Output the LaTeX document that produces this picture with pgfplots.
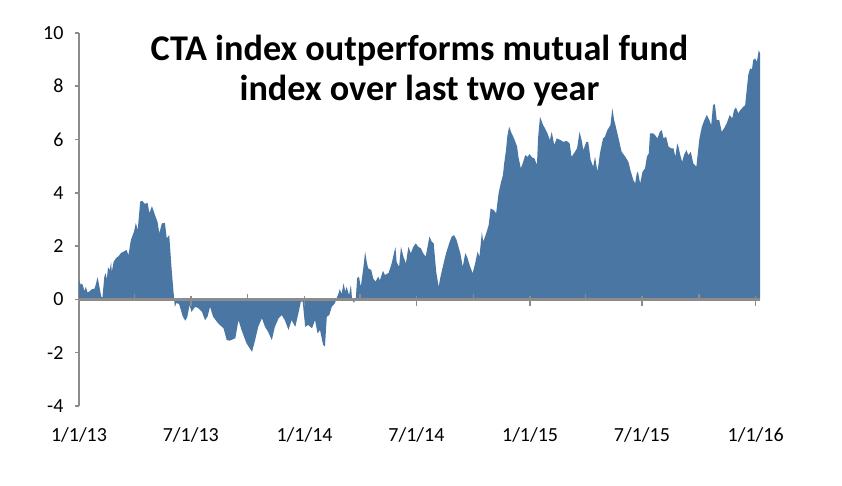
\documentclass[border=0pt]{standalone}
\usepackage{pgfplots}
\pgfplotsset{compat=1.18}
\usepackage{fontspec}
\setmainfont{Carlito}
\definecolor{cblue}{RGB}{74,118,164}
\definecolor{axgray}{RGB}{140,140,140}
\begin{document}
\begin{tikzpicture}
\begin{axis}[
  at={(0pt,0pt)}, anchor=south west,
  scale only axis, width=681pt, height=373pt,
  xmin=0, xmax=1102, ymin=-4, ymax=10,
  axis y line*=left, axis x line*=bottom,
  x axis line style={draw=none},
  y axis line style={draw=axgray, line width=1.5pt},
  ytick={-4,-2,0,2,4,6,8,10},
  yticklabels={-4,-2,0,2,4,6,8,10},
  xtick={0,181,365,546,730,911,1095},
  xticklabels={1/1/13,7/1/13,1/1/14,7/1/14,1/1/15,7/1/15,1/1/16},
  tick align=outside,
  major y tick style={draw=axgray, line width=1.5pt},
  major tick length=4pt,
  major x tick style={draw=none},
  ticklabel style={font=\fontsize{20}{22}\selectfont, text=black},
  yticklabel style={xshift=-8pt},
  xticklabel style={yshift=-14pt},
  clip=false,
]
\addplot[fill=cblue, draw=none] table[row sep=\\] {
x y\\
0 0.72\\ 3 0.54\\ 5 0.60\\ 9 0.31\\ 11 0.47\\ 14 0.25\\ 18 0.32\\ 21 0.38\\ 25 0.40\\ 27 0.54\\
30 0.83\\ 32 0.60\\ 36 0.10\\ 38 0.08\\ 41 0.85\\ 43 0.98\\ 45 0.75\\ 47 1.20\\ 50 1.10\\ 52 1.41\\
53 1.02\\ 56 1.41\\ 60 1.55\\ 64 1.62\\ 68 1.74\\ 72 1.79\\ 77 1.85\\ 80 1.66\\ 84 2.23\\ 89 2.54\\
92 2.87\\ 95 2.60\\ 99 3.66\\ 102 3.70\\ 107 3.58\\ 111 3.62\\ 114 3.23\\ 118 3.50\\ 123 3.16\\ 127 2.91\\
130 2.48\\ 134 2.85\\ 139 2.87\\ 142 2.29\\ 146 2.41\\ 150 1.10\\ 152 0.54\\ 154 0.00\\ 155 -0.28\\ 158 -0.13\\
162 -0.18\\ 168 -0.65\\ 172 -0.80\\ 175 -0.68\\ 179 -0.21\\ 182 -0.47\\ 188 -0.28\\ 193 -0.33\\ 199 -0.47\\ 204 -0.78\\
208 -0.65\\ 212 -0.28\\ 217 -0.65\\ 225 -0.90\\ 234 -1.09\\ 239 -1.53\\ 244 -1.55\\ 253 -1.46\\ 258 -0.78\\ 263 -1.15\\
271 -1.65\\ 280 -1.97\\ 285 -1.53\\ 290 -1.03\\ 296 -0.71\\ 301 -1.03\\ 306 -1.22\\ 312 -1.53\\ 317 -1.03\\ 323 -0.71\\
328 -0.59\\ 333 -0.78\\ 339 -1.15\\ 344 -0.78\\ 350 -1.03\\ 355 -0.53\\ 359 -0.09\\ 362 -0.09\\ 366 -1.03\\ 371 -0.96\\
377 -1.09\\ 382 -0.78\\ 386 -1.28\\ 390 -1.15\\ 395 -1.71\\ 398 -1.77\\ 401 -0.65\\ 405 -0.59\\ 409 -0.28\\ 414 -0.15\\
420 0.23\\ 422 0.38\\ 425 0.20\\ 428 0.60\\ 431 0.29\\ 433 0.47\\ 437 0.16\\ 440 0.54\\ 442 -0.03\\ 445 -0.13\\
448 0.04\\ 450 0.79\\ 453 0.85\\ 456 0.47\\ 460 1.16\\ 463 1.79\\ 466 1.35\\ 468 1.16\\ 473 1.10\\ 476 0.79\\
480 0.66\\ 484 0.85\\ 487 0.72\\ 492 1.07\\ 495 0.91\\ 501 0.99\\ 506 1.35\\ 512 1.97\\ 514 1.40\\ 518 1.22\\
521 1.97\\ 525 1.60\\ 529 1.35\\ 533 1.97\\ 537 1.73\\ 541 1.97\\ 545 2.10\\ 549 1.97\\ 553 1.92\\ 557 1.73\\
561 1.60\\ 564 1.97\\ 567 2.35\\ 571 2.16\\ 574 2.10\\ 578 1.04\\ 582 0.47\\ 585 0.85\\ 590 1.35\\ 594 1.73\\
599 2.10\\ 603 2.35\\ 607 2.41\\ 611 2.23\\ 617 1.73\\ 621 1.22\\ 625 1.73\\ 628 1.60\\ 632 1.29\\ 637 0.98\\
641 1.35\\ 645 1.79\\ 648 1.60\\ 652 2.54\\ 654 2.16\\ 659 2.48\\ 663 2.79\\ 666 3.41\\ 671 3.35\\ 675 3.23\\
679 3.98\\ 683 4.41\\ 686 4.66\\ 688 5.10\\ 691 5.60\\ 693 6.10\\ 696 6.48\\ 700 6.23\\ 704 6.04\\ 709 5.73\\
711 5.35\\ 715 4.92\\ 718 5.10\\ 722 5.41\\ 726 5.35\\ 729 5.45\\ 733 5.33\\ 737 5.29\\ 741 5.04\\ 743 6.10\\
746 6.85\\ 751 6.54\\ 754 6.42\\ 758 6.23\\ 762 5.98\\ 765 6.29\\ 769 5.79\\ 773 6.04\\ 779 5.98\\ 784 5.91\\
789 5.95\\ 794 5.85\\ 797 5.35\\ 801 5.48\\ 806 5.67\\ 810 6.29\\ 814 5.91\\ 816 5.60\\ 821 5.91\\ 824 5.91\\
828 5.23\\ 832 4.98\\ 835 5.35\\ 839 4.79\\ 843 5.48\\ 848 6.04\\ 851 6.10\\ 855 6.35\\ 860 6.54\\ 863 7.17\\
866 6.73\\ 870 6.35\\ 875 5.85\\ 878 5.54\\ 884 5.35\\ 889 5.16\\ 893 4.79\\ 897 4.48\\ 900 4.35\\ 903 4.79\\
905 4.73\\ 908 4.35\\ 912 4.79\\ 916 4.92\\ 919 5.35\\ 922 5.48\\ 924 6.23\\ 929 6.23\\ 932 6.17\\ 936 6.04\\
940 6.29\\ 943 6.35\\ 946 6.04\\ 950 6.10\\ 954 5.73\\ 958 5.67\\ 962 5.67\\ 965 5.35\\ 968 5.85\\ 970 5.73\\
973 5.41\\ 976 5.16\\ 979 5.41\\ 983 5.60\\ 986 5.41\\ 990 5.54\\ 994 5.10\\ 999 4.98\\ 1001 5.41\\ 1004 6.04\\
1008 6.48\\ 1012 6.73\\ 1016 6.92\\ 1020 6.73\\ 1023 6.54\\ 1026 7.29\\ 1029 7.33\\ 1032 6.73\\ 1036 6.73\\ 1040 6.29\\
1044 6.42\\ 1048 6.60\\ 1053 6.92\\ 1057 6.79\\ 1060 7.10\\ 1063 7.20\\ 1067 6.98\\ 1070 7.10\\ 1074 7.20\\ 1078 7.29\\
1081 7.98\\ 1083 8.42\\ 1086 8.67\\ 1089 8.63\\ 1091 8.98\\ 1094 9.04\\ 1097 8.92\\ 1100 9.35\\ 1102 9.23\\
} \closedcycle;
\node[anchor=north, align=center, inner sep=0pt, font=\fontsize{36.2}{40}\selectfont\bfseries]
  at (rel axis cs:0.5,1) [yshift=-2pt] {CTA index outperforms mutual fund\\index over last two year};
\end{axis}
\begin{axis}[
  at={(0pt,0pt)}, anchor=south west,
  scale only axis, width=681pt, height=373pt,
  xmin=0, xmax=1102, ymin=-4, ymax=10,
  axis x line=middle, axis y line=none,
  x axis line style={draw=axgray, line width=2.4pt, -},
  xtick={181,365,546,730,911,1095},
  minor xtick={90,273,455,638,820,1003},
  xticklabels={},
  ytick=\empty,
  tick align=center,
  major tick length=10pt,
  minor tick length=7pt,
  major x tick style={draw=axgray, line width=1.5pt, yshift=-1.5pt},
  minor x tick style={draw=axgray, line width=1.5pt, yshift=2pt},
]
\addplot[draw=none] coordinates {(0,0)};
\end{axis}
\pgfresetboundingbox
\path[use as bounding box] (-79pt,-80.1pt) rectangle (763pt,405.9pt);
\end{tikzpicture}
\end{document}
